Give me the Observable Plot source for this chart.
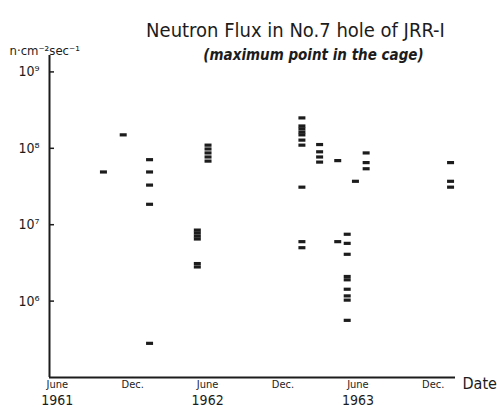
<!DOCTYPE html>
<html>
<head>
<meta charset="utf-8">
<script src="https://cdn.jsdelivr.net/npm/d3@7"></script>
<script src="https://cdn.jsdelivr.net/npm/@observablehq/plot@0.6"></script>
<style>
  html, body { margin: 0; padding: 0; background: #fff; }
  svg { display: block; }
</style>
</head>
<body>
<div id="chart"></div>
<script>
// Measurement dates (one entry per dash) and flux values, n·cm^-2·sec^-1
const dates = [
  "1961-09-21",
  "1961-11-08",
  "1962-01-11", "1962-01-11", "1962-01-11", "1962-01-11", "1962-01-11",
  "1962-05-07", "1962-05-07", "1962-05-07", "1962-05-07", "1962-05-07", "1962-05-07",
  "1962-06-02", "1962-06-02", "1962-06-02", "1962-06-02", "1962-06-02",
  "1963-01-16", "1963-01-16", "1963-01-16", "1963-01-16", "1963-01-16",
  "1963-01-16", "1963-01-16", "1963-01-16", "1963-01-16", "1963-01-16",
  "1963-02-28", "1963-02-28", "1963-02-28", "1963-02-28",
  "1963-04-13", "1963-04-13",
  "1963-05-06", "1963-05-06", "1963-05-06", "1963-05-06", "1963-05-06",
  "1963-05-06", "1963-05-06", "1963-05-06", "1963-05-06",
  "1963-05-26",
  "1963-06-21", "1963-06-21", "1963-06-21",
  "1964-01-12", "1964-01-12", "1964-01-12"
];
const flux = [
  4.9e7,
  1.5e8,
  7.1e7, 4.9e7, 3.3e7, 1.85e7, 2.8e5,
  8.5e6, 7.8e6, 7.1e6, 6.5e6, 3.1e6, 2.8e6,
  1.1e8, 9.8e7, 8.7e7, 7.7e7, 6.8e7,
  2.5e8, 1.96e8, 1.8e8, 1.63e8, 1.5e8,
  1.28e8, 1.1e8, 3.1e7, 6.0e6, 5.0e6,
  1.12e8, 9.0e7, 7.7e7, 6.6e7,
  6.9e7, 6.0e6,
  7.5e6, 5.7e6, 4.1e6, 2.1e6, 1.9e6,
  1.43e6, 1.17e6, 1.03e6, 5.6e5,
  3.7e7,
  8.7e7, 6.5e7, 5.4e7,
  6.5e7, 3.7e7, 3.1e7
];

// Axis ticks and labels
const yTicks = [1e6, 1e7, 1e8, 1e9];
const yTickLabels = ["10⁶", "10⁷", "10⁸", "10⁹"];
const xTicks = ["1961-06-01", "1961-12-01", "1962-06-01", "1962-12-01", "1963-06-01", "1963-12-01"];
const xMonthLabels = ["June", "Dec.", "June", "Dec.", "June", "Dec."];
const xYearLabels = ["1961", "", "1962", "", "1963", ""];
const xDomain = ["1961-05-13", "1964-01-24"];
const yDomain = [1e5, 1.64e9];

const title = "Neutron Flux in No.7 hole of JRR-I";
const subtitle = "(maximum point in the cage)";
const unitLabel = "n·cm⁻²sec⁻¹";
const xAxisLabel = "Date";

const parse = d3.utcParse("%Y-%m-%d");
const data = dates.map((d, i) => ({date: parse(d), flux: flux[i]}));
const xTickData = xTicks.map((d, i) => ({date: parse(d), month: xMonthLabels[i], year: xYearLabels[i]}));

const ink = "#1c1c1c";
const font = "'DejaVu Sans Condensed', 'Liberation Sans Narrow', 'DejaVu Sans', sans-serif";

const W = 497, H = 412;
const mL = 49, mT = 55, mR = 42, mB = 35;
const plotW = W - mL - mR;

const dash = {
  draw(context) {
    context.rect(-3.5, -1.6, 7, 3.2);
  }
};

const chart = Plot.plot({
  width: W,
  height: H,
  marginLeft: mL,
  marginTop: mT,
  marginRight: mR,
  marginBottom: mB,
  style: {fontFamily: font, color: ink, background: "#fff", overflow: "visible"},
  x: {type: "utc", domain: xDomain.map(parse), axis: null},
  y: {type: "log", domain: yDomain, axis: null},
  marks: [
    // axis lines
    Plot.ruleY([yDomain[0]], {stroke: ink, strokeWidth: 2}),
    Plot.ruleX([parse(xDomain[0])], {stroke: ink, strokeWidth: 2}),
    // inward y tick marks
    Plot.tickY(yTicks, {y: d => d, stroke: ink, strokeWidth: 1.5, insetRight: plotW - 5}),
    // y tick labels
    Plot.axisY({
      ticks: yTicks,
      tickSize: 0,
      tickPadding: 10,
      tickFormat: d => yTickLabels[yTicks.indexOf(d)],
      fontSize: 14,
      label: null
    }),
    // x tick labels: months then years
    Plot.text(xTickData, {x: "date", text: "month", frameAnchor: "bottom", dy: 10, fontSize: 11, fill: ink}),
    Plot.text(xTickData, {x: "date", text: "year", frameAnchor: "bottom", dy: 27, fontSize: 14, fill: ink}),
    Plot.text([xAxisLabel], {text: d => d, frameAnchor: "bottom-right", dx: 7, dy: 11, textAnchor: "start", fontSize: 16, fill: ink}),
    // titles
    Plot.text([title], {text: d => d, frameAnchor: "top-left", dx: 246, dy: -33, textAnchor: "middle", fontSize: 20, fill: ink}),
    Plot.text([subtitle], {text: d => d, frameAnchor: "top-left", dx: 264, dy: -6, textAnchor: "middle", fontSize: 15, fontStyle: "italic", fontWeight: "bold", fill: ink}),
    Plot.text([unitLabel], {text: d => d, frameAnchor: "top-left", dx: -40, dy: -10, textAnchor: "start", fontSize: 13, fill: ink}),
    // data dashes
    Plot.dot(data, {x: "date", y: "flux", symbol: dash, fill: ink, stroke: null, r: 4})
  ]
});

document.getElementById("chart").appendChild(chart);
</script>
</body>
</html>
